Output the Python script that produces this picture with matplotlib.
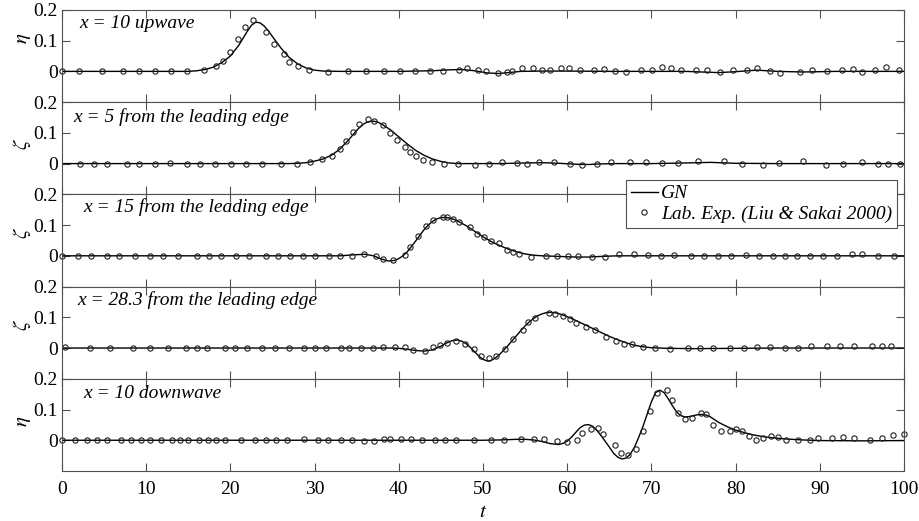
import numpy as np
import matplotlib
matplotlib.use("Agg")
import matplotlib.pyplot as plt
from matplotlib.lines import Line2D

plt.rcParams["font.family"] = ["Liberation Serif", "DejaVu Serif"]
plt.rcParams["mathtext.fontset"] = "stix"

# ---- x = 10 upwave (eta) ----
gn_t_up = [0, 15, 16, 17, 18, 19, 20, 21, 22, 22.5, 23, 23.5, 24, 24.5, 25, 26, 27, 28, 29, 30, 31, 33,
           40, 44, 46, 47.5, 49, 50.5, 51.8, 53, 54.5, 57, 60, 65, 70, 74, 78, 80, 82.5, 85, 88, 92, 100]
gn_up = [0, 0, 0.002, 0.006, 0.014, 0.029, 0.05, 0.085, 0.13, 0.15, 0.16, 0.158, 0.148, 0.132, 0.113, 0.076,
         0.045, 0.024, 0.011, 0.004, 0.001, 0, 0, 0.002, 0.005, 0.006, 0.002, -0.005, -0.007, -0.004, 0,
         0.001, 0.001, 0, 0, 0, -0.004, -0.001, 0.004, 0, -0.002, 0, 0]
exp_t_up = [0, 2.0, 4.7, 7.3, 9.2, 11.1, 13.0, 14.9, 16.9, 18.3, 19.1, 20.0, 20.9, 21.7, 22.7, 24.2, 25.2,
            26.4, 26.9, 28.0, 29.3, 31.6, 34.0, 36.1, 38.2, 40.1, 41.9, 43.7, 45.3, 47.2,
            48.1, 49.4, 50.4, 51.8, 52.9, 53.5, 54.6, 55.9, 57.0, 58.0, 59.3, 60.2, 61.5, 63.2, 64.4, 65.7,
            67.0, 68.8, 70.1, 71.2, 72.3, 73.5, 75.3, 76.6, 78.2, 79.7, 81.3, 82.6, 84.1, 85.3, 87.6, 89.1,
            90.9, 92.6, 93.9, 95.0, 96.6, 97.9, 99.4]
exp_up = [0, 0, 0, 0, 0, 0, 0, 0, 0.003, 0.016, 0.033, 0.063, 0.105, 0.143, 0.166, 0.128, 0.09, 0.058,
          0.03, 0.017, 0.004, -0.003, 0, 0, 0, 0.002, 0, 0, 0.002, 0.005,
          0.011, 0.006, 0, -0.004, -0.003, 0.002, 0.011, 0.011, 0.005, 0.005, 0.012, 0.011, 0.005, 0.005,
          0.009, 0, -0.003, 0.003, 0.006, 0.015, 0.011, 0.005, 0.006, 0.005, -0.002, 0.004, 0.006, 0.012,
          0.001, -0.004, -0.001, 0.006, 0, 0.005, 0.008, -0.002, 0.006, 0.014, 0.005]

# ---- x = 5 from the leading edge (zeta) ----
gn_t_5 = [0, 27, 28, 29, 30, 31, 32, 33, 34, 35, 35.5, 36, 36.5, 37, 37.5, 38, 39, 40, 41, 42, 43, 44, 45,
          46, 47, 50, 52, 55, 57, 59, 61, 62.5, 64, 66, 70, 74, 77, 80, 85, 100]
gn_5 = [0, 0, 0.001, 0.003, 0.008, 0.015, 0.027, 0.047, 0.076, 0.108, 0.122, 0.132, 0.137, 0.138, 0.135,
        0.128, 0.11, 0.087, 0.064, 0.043, 0.027, 0.015, 0.007, 0.002, 0, 0, 0, 0.002, 0.003, 0.001, -0.002,
        -0.003, -0.001, 0, 0, 0.002, 0.004, 0.001, 0, 0]
exp_t_5 = [2.1, 3.8, 5.4, 7.7, 9.2, 11.0, 12.8, 14.9, 16.4, 18.2, 20.1, 21.9, 23.8, 26.0, 27.9, 29.5, 30.9,
           32.1, 33.0, 33.7, 34.6, 35.3, 36.3, 37.0, 38.1, 38.9, 39.8, 40.7, 41.3, 42.1, 42.9, 44.0, 45.4,
           47.0, 49.0, 50.7, 52.2, 54.0, 55.2, 56.7, 58.4, 60.3, 61.8, 63.5, 65.2, 67.4, 69.3, 71.2, 73.2,
           75.5, 78.6, 80.8, 83.2, 85.1, 88.0, 90.7, 92.7, 95.0, 96.9, 98.1, 99.5]
exp_5 = [0, 0, 0, 0, 0, 0, 0.003, 0, 0, 0, 0, 0, 0, 0, 0, 0.005, 0.015, 0.024, 0.046, 0.073, 0.103, 0.13,
         0.145, 0.137, 0.124, 0.1, 0.078, 0.053, 0.037, 0.026, 0.013, 0.005, 0, 0, -0.003, 0, 0.005, 0.002,
         -0.002, 0.005, 0.004, -0.001, -0.004, -0.001, 0.005, 0.004, 0.004, 0.002, 0.003, 0.008, 0.008, 0,
         -0.005, 0.002, 0.008, -0.005, -0.001, 0.004, 0, 0, 0]

# ---- x = 15 from the leading edge (zeta) ----
gn_t_15 = [0, 33, 34.5, 36, 37, 38, 38.8, 39.5, 40, 40.5, 41, 41.5, 42, 42.5, 43, 43.5, 44, 44.5, 45, 45.5,
           46, 46.5, 47, 48, 49, 50, 51, 52, 53, 54, 55, 56, 57, 59, 61, 62.5, 64, 66, 100]
gn_15 = [0, 0, 0.003, 0.005, 0.0, -0.011, -0.017, -0.015, -0.009, 0.0, 0.013, 0.03, 0.048, 0.067, 0.085,
         0.1, 0.112, 0.12, 0.124, 0.125, 0.123, 0.119, 0.113, 0.098, 0.08, 0.062, 0.046, 0.033, 0.022, 0.013,
         0.006, 0.002, 0, -0.002, -0.004, -0.004, -0.002, 0, 0]
exp_t_15 = [0, 1.9, 3.5, 5.3, 6.8, 8.7, 10.5, 12.0, 13.8, 16.0, 17.4, 18.9, 20.7, 22.2, 24.2, 25.6, 27.1,
            28.6, 30.0, 31.7, 33.0, 34.5, 35.9, 37.3, 38.1, 39.3, 40.7, 41.3, 42.3, 43.2, 44.1, 45.2, 45.7,
            46.4, 47.2, 48.5, 49.3, 50.1, 51.0, 51.9, 52.9, 53.6, 54.3, 55.7, 57.5, 58.8, 60.1, 61.3, 63.0,
            64.5, 66.2, 67.9, 69.6, 71.1, 72.7, 74.7, 76.3, 77.9, 79.5, 81.2, 82.8, 84.5, 85.9, 87.3, 88.8,
            90.4, 92.0, 93.8, 95.0, 96.9, 98.8]
exp_15 = [0] * 22 + [0.006, -0.002, -0.011, -0.013, 0.003, 0.03, 0.063, 0.098, 0.115, 0.125, 0.125, 0.12,
                     0.11, 0.093, 0.072, 0.06, 0.049, 0.043, 0.02, 0.011, 0.005, -0.004, 0, 0, 0, -0.002,
                     -0.004, -0.005, 0.006, 0.005, 0.002, 0, 0.002, 0, 0, 0, 0, 0.002, 0, 0, 0, 0, 0, 0, 0,
                     0.005, 0.005, 0, 0]

# ---- x = 28.3 from the leading edge (zeta) ----
gn_t_28 = [0, 39, 40, 41, 42, 43, 44, 45, 45.5, 46, 46.5, 47, 47.5, 48, 48.5, 49, 49.5, 50, 50.6, 51, 51.5,
           52, 52.5, 53, 53.5, 54, 54.5, 55, 55.5, 56, 56.5, 57, 57.5, 58, 58.5, 59, 60, 61, 62, 63, 64, 65,
           66, 67, 68, 69, 70, 72, 75, 80, 85, 100]
gn_28 = [0, 0, -0.001, -0.004, -0.008, -0.01, -0.006, 0.006, 0.014, 0.021, 0.025, 0.026, 0.022, 0.014,
         0.002, -0.012, -0.026, -0.037, -0.043, -0.04, -0.032, -0.02, -0.006, 0.009, 0.025, 0.041, 0.057,
         0.072, 0.085, 0.096, 0.105, 0.111, 0.115, 0.116, 0.115, 0.112, 0.102, 0.09, 0.077, 0.064, 0.051,
         0.038, 0.027, 0.017, 0.009, 0.004, 0.001, -0.001, -0.002, -0.001, 0, 0]
exp_t_28 = [0.3, 3.3, 5.7, 8.4, 10.4, 12.6, 14.7, 16.0, 17.2, 19.3, 20.5, 22.0, 23.7, 25.3, 27.0, 28.7, 30.0,
            31.4, 33.1, 34.1, 35.5, 36.9, 38.1, 39.5, 40.7, 41.7, 43.1, 44.1, 44.9, 45.7, 46.8, 47.9, 48.9,
            49.8, 50.7, 51.5, 52.6, 53.6, 54.7, 55.4, 56.2, 57.8, 58.6, 59.5, 60.3, 61.0, 62.2, 63.3, 64.6,
            65.8, 66.7, 67.7, 69.0, 70.4, 72.2, 74.4, 75.8, 77.3, 79.3, 81.0, 82.6, 84.1, 85.9, 87.4, 89.0,
            90.8, 92.4, 94.1, 96.2, 97.4, 98.5]
exp_28 = [0.002] + [0] * 21 + [0.002, 0.004, 0.004, -0.007, -0.009, 0.002, 0.011, 0.016, 0.022, 0.013,
                               -0.003, -0.025, -0.033, -0.025, -0.003, 0.03, 0.06, 0.084, 0.098, 0.113,
                               0.111, 0.103, 0.095, 0.08, 0.067, 0.058, 0.035, 0.024, 0.013, 0.013, 0.002,
                               0, -0.002, 0, 0, 0, 0, 0, 0.002, 0.004, 0, 0, 0.008, 0.008, 0.008, 0.008,
                               0.008, 0.008, 0.008]

# ---- x = 10 downwave (eta) ----
gn_t_down = [0, 50, 52, 54, 55, 56, 57, 58, 59, 59.5, 60, 60.5, 61, 61.5, 62, 62.5, 63, 63.5, 64, 64.5, 65,
             65.5, 66, 66.5, 67, 67.5, 68, 68.5, 69, 69.5, 70, 70.5, 71, 71.5, 72, 72.5, 73, 73.5, 74, 74.5,
             75, 75.5, 76, 76.5, 77, 78, 79, 80, 81, 82, 83, 84, 86, 88, 90, 95, 100]
gn_down = [0, 0, 0.001, 0.003, 0.003, 0.001, -0.004, -0.011, -0.014, -0.01, -0.003, 0.01, 0.025, 0.04,
           0.049, 0.051, 0.046, 0.033, 0.016, -0.003, -0.022, -0.042, -0.055, -0.061, -0.058, -0.045,
           -0.022, 0.01, 0.045, 0.085, 0.125, 0.155, 0.163, 0.155, 0.135, 0.112, 0.092, 0.08, 0.076, 0.077,
           0.08, 0.083, 0.084, 0.082, 0.076, 0.058, 0.044, 0.033, 0.025, 0.018, 0.013, 0.009, 0.004, 0.001,
           -0.001, -0.002, -0.001]
exp_t_down = [0, 1.5, 3.0, 4.1, 5.4, 7.0, 8.2, 9.4, 10.5, 11.7, 13.1, 14.0, 15.0, 16.3, 17.3, 18.3, 19.4,
              21.3, 22.9, 24.2, 25.4, 26.7, 28.7, 30.4, 31.6, 33.1, 34.5, 35.9, 37.1, 38.3, 39.0, 40.3, 41.4,
              42.8, 44.3, 45.5, 46.8, 48.9, 51.0, 52.5, 54.5, 56.1, 57.3, 58.8, 60.0, 61.2, 61.8, 62.8, 63.6,
              64.3, 65.7, 66.4, 67.2, 68.2, 69.0, 69.8, 70.7, 71.8, 72.4, 73.2, 74.0, 74.8, 75.9, 76.5, 77.3,
              78.3, 79.3, 80.0, 80.8, 81.6, 82.4, 83.3, 84.2, 85.0, 86.0, 87.4, 88.8, 89.8, 91.4, 92.7, 94.1,
              96.0, 97.4, 98.7, 100.0]
exp_down = [0] * 22 + [0.004, 0.001, 0.001, 0.002, 0.001, -0.002, -0.002, 0.003, 0.003, 0.003, 0.004,
                       0.002, 0.002, 0.002, 0.002, 0.002, 0.001, 0.001, 0.003, 0.003, 0.005, -0.004, -0.007,
                       0.002, 0.022, 0.038, 0.04, 0.021, -0.016, -0.041, -0.049, -0.027, 0.029, 0.095,
                       0.154, 0.163, 0.13, 0.089, 0.07, 0.073, 0.089, 0.084, 0.049, 0.029, 0.029, 0.035,
                       0.029, 0.013, 0.002, 0.007, 0.013, 0.01, 0.002, 0.002, 0, 0.007, 0.007, 0.011, 0.007,
                       0.001, 0.007, 0.016, 0.02]

panel_labels = ["x = 10 upwave", "x = 5 from the leading edge", "x = 15 from the leading edge",
                "x = 28.3 from the leading edge", "x = 10 downwave"]
y_labels = [r"$\eta$", r"$\zeta$", r"$\zeta$", r"$\zeta$", r"$\eta$"]
legend_labels = ["GN", "Lab. Exp. (Liu & Sakai 2000)"]


def main():
    curves = [(gn_t_up, gn_up, exp_t_up, exp_up),
              (gn_t_5, gn_5, exp_t_5, exp_5),
              (gn_t_15, gn_15, exp_t_15, exp_15),
              (gn_t_28, gn_28, exp_t_28, exp_28),
              (gn_t_down, gn_down, exp_t_down, exp_down)]
    label_pos = [(0.02, 0.80), (0.013, 0.78), (0.025, 0.81), (0.018, 0.80), (0.025, 0.79)]
    ylab_pos = [0.69, 0.55, 0.58, 0.58, 0.54]
    frame = "#505050"

    fig, axes = plt.subplots(5, 1, sharex=True, figsize=(9.2, 5.21), dpi=100)
    fig.subplots_adjust(left=0.0674, right=0.9826, bottom=0.096, top=0.981, hspace=0)

    for i, ax in enumerate(axes):
        gt, gv, et, ev = curves[i]
        ax.plot(gt, gv, color="black", lw=1.0)
        ax.plot(et, ev, "o", mfc="none", mec="#202020", ms=3.8, mew=0.8, clip_on=False)
        ax.set_xlim(0, 100)
        ax.set_ylim(-0.1, 0.2)
        ax.set_yticks([0, 0.1, 0.2])
        ax.set_yticklabels(["0", "0.1", "0.2"])
        ax.set_xticks(np.arange(0, 101, 10))
        ax.tick_params(direction="in", length=6, width=0.8, top=True, right=True,
                       labelsize=14, color=frame)
        ax.tick_params(axis="y", pad=3)
        ax.tick_params(axis="x", pad=7)
        for s in ax.spines.values():
            s.set_color(frame)
            s.set_linewidth(0.8)
        lx, ly = label_pos[i]
        ax.text(lx, ly, panel_labels[i], transform=ax.transAxes, style="italic",
                fontsize=14, va="baseline")
        ax.set_ylabel(y_labels[i], fontsize=15)
        ax.yaxis.set_label_coords(-0.035, ylab_pos[i])

    axes[-1].set_xlabel(r"$t$", fontsize=15, labelpad=4)

    handles = [Line2D([], [], color="black", lw=1.0),
               Line2D([], [], ls="none", marker="o", mfc="none", mec="#202020", ms=3.8, mew=0.8)]
    leg = fig.legend(handles, legend_labels, loc="upper right", bbox_to_anchor=(897 / 920, 1 - 180 / 521),
                     prop={"style": "italic", "size": 14}, fancybox=False, edgecolor=frame,
                     framealpha=1, handlelength=1.4, handletextpad=0.15, borderpad=0.25,
                     labelspacing=0.15, borderaxespad=0)
    leg.get_frame().set_linewidth(0.8)

    fig.savefig("out.png", dpi=100)
    plt.close(fig)


if __name__ == "__main__":
    main()
